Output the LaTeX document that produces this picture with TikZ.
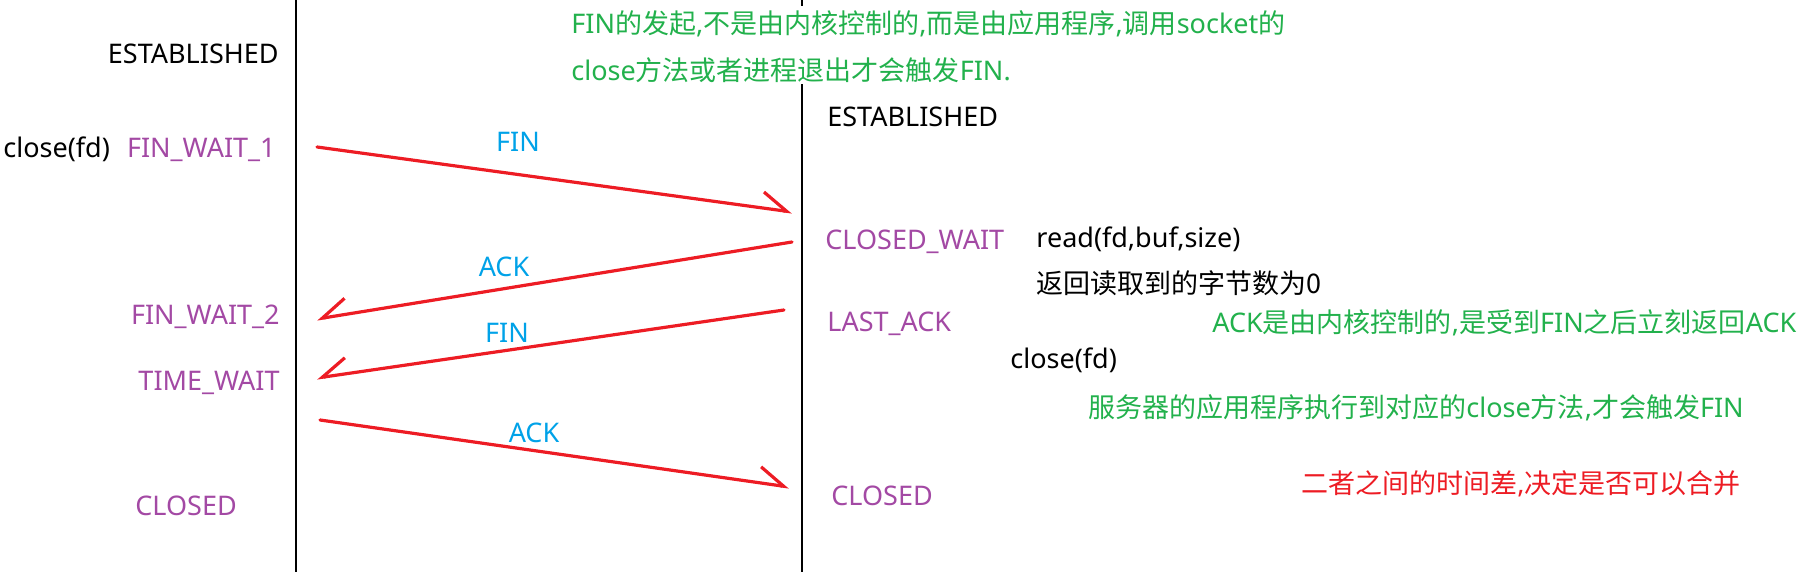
\documentclass[tikz,border=0pt]{standalone}
\usepackage{fontspec}
\setmainfont{Noto Sans}
\newfontfamily\cjk{Noto Sans CJK SC}
\usetikzlibrary{arrows.meta}
\definecolor{pgreen}{RGB}{34,177,76}
\definecolor{pred}{RGB}{237,28,36}
\definecolor{ppurple}{RGB}{163,73,164}
\definecolor{pcyan}{RGB}{0,162,232}
\begin{document}
\begin{tikzpicture}[x=0.5pt,y=-0.5pt,
  txt/.style={inner sep=0pt, font=\fontsize{13.5}{23.5}\selectfont},
  st/.style={txt, text=ppurple},
  msg/.style={txt, text=pcyan},
  note/.style={txt, text=pgreen},
  lane/.style={line width=1.2pt, black},
  sig/.style={line width=1.6pt, pred, line cap=round},
  tipL/.style={-{Straight Barb[left, length=12.5pt, width=16pt]}},
  tipR/.style={-{Straight Barb[right, length=12.5pt, width=16pt]}}]
\useasboundingbox (0,0) rectangle (1805,572);
% lanes
\coordinate (Ltop) at (296,0); \coordinate (Lbot) at (296,572);
\coordinate (Rtop) at (802,0); \coordinate (Rbot) at (802,572);
\draw[lane] (Ltop) -- (Lbot);
\draw[lane] (Rtop) -- (Rbot);
% white backing of the top note (it hides the lane there)
\fill[white] (565,6) rectangle (1290,84);
% top note (base anchor = baseline of its last line)
\node[note, align=left, anchor=base west] (note1) at (571,81)
  {FIN{\cjk 的发起},{\cjk 不是由内核控制的},{\cjk 而是由应用程序},{\cjk 调用}socket{\cjk 的}\\close{\cjk 方法或者进程退出才会触发}FIN.};
% left side
\node[txt, anchor=base east] (estL) at (279,64) {ESTABLISHED};
\node[txt, anchor=base west] (closeL) at (3,158) {close(fd)};
\node[st, anchor=base east] (fw1) at (276,158) {FIN\_WAIT\_1};
\node[st, anchor=base east] (fw2) at (280,325) {FIN\_WAIT\_2};
\node[st, anchor=base east] (tw) at (280,390) {TIME\_WAIT};
\node[st, anchor=base west] (clL) at (135,515) {CLOSED};
% right side
\node[txt, anchor=base west] (estR) at (827,127) {ESTABLISHED};
\node[st, anchor=base west] (cw) at (825,250) {CLOSED\_WAIT};
\node[st, anchor=base west] (la) at (827,332) {LAST\_ACK};
\node[st, anchor=base west] (clR) at (831,505) {CLOSED};
\node[txt, anchor=base west] (rd) at (1036,248) {read(fd,buf,size)};
\node[txt, anchor=base west] (ret) at (1036,293) {\cjk 返回读取到的字节数为0};
\node[note, anchor=base west] (n2) at (1212,333) {ACK{\cjk 是由内核控制的},{\cjk 是受到}FIN{\cjk 之后立刻返回}ACK};
\node[txt, anchor=base west] (closeR) at (1010,368) {close(fd)};
\node[note, anchor=base west] (n3) at (1088,417) {{\cjk 服务器的应用程序执行到对应的}close{\cjk 方法},{\cjk 才会触发}FIN};
\node[txt, anchor=base west, text=pred] (n4) at (1301,493) {{\cjk 二者之间的时间差},{\cjk 决定是否可以合并}};
% messages
\coordinate (a1s) at (317,147); \coordinate (a1e) at (792,212);
\coordinate (a2s) at (792,242); \coordinate (a2e) at (317,319);
\coordinate (a3s) at (784,310); \coordinate (a3e) at (317,378);
\coordinate (a4s) at (320,420); \coordinate (a4e) at (789,487);
\draw[sig, tipL] (a1s) -- (a1e);
\draw[sig, tipR] (a2s) -- (a2e);
\draw[sig, tipR] (a3s) -- (a3e);
\draw[sig, tipL] (a4s) -- (a4e);
\node[msg] (m1) at (518,142) {FIN};
\node[msg] (m2) at (504,267) {ACK};
\node[msg] (m3) at (507,333) {FIN};
\node[msg] (m4) at (534,433) {ACK};
\end{tikzpicture}
\end{document}
